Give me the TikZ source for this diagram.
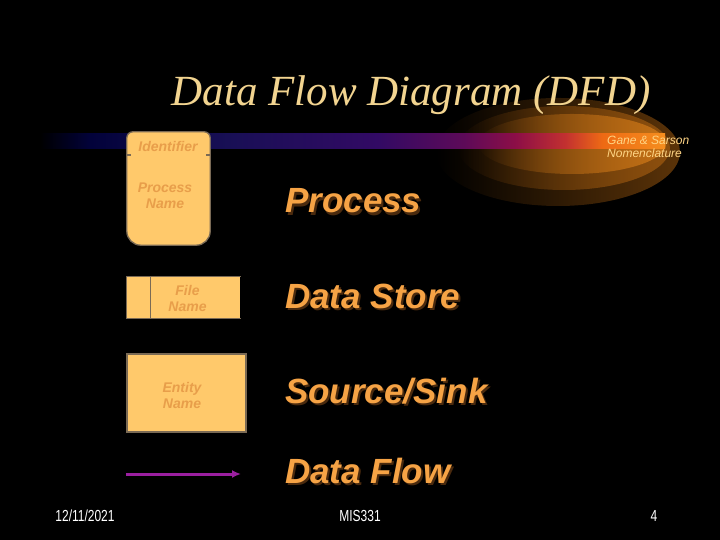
\documentclass[tikz,border=0pt]{standalone}
\usepackage{fontspec}
\setmainfont{Liberation Serif}
\setsansfont{Liberation Sans}
\newfontfamily\narrowsans[FakeStretch=0.75]{Liberation Sans}
\usetikzlibrary{arrows.meta,positioning,fadings}

\definecolor{titletan}{HTML}{F2D490}
\definecolor{ganetan}{HTML}{FFD585}
\definecolor{boxfill}{HTML}{FFC96B}
\definecolor{boxline}{HTML}{7A6A55}
\definecolor{boxtext}{HTML}{E89E4A}
\definecolor{lblorange}{HTML}{F6A345}
\definecolor{lbldark}{HTML}{4A2A0E}
\definecolor{flowpurple}{HTML}{9B1FA0}
\definecolor{glowdeep}{HTML}{5C3409}
\definecolor{glowmid}{HTML}{8E500E}
\definecolor{glowhot}{HTML}{C27016}
\definecolor{barnavy}{HTML}{02023A}
\definecolor{barblue}{HTML}{180F55}
\definecolor{barviolet}{HTML}{320A64}
\definecolor{barplum}{HTML}{5E0A58}
\definecolor{barwine}{HTML}{8C0E47}
\definecolor{barred}{HTML}{C23030}
\definecolor{barorange}{HTML}{EE6A14}
\definecolor{barglow}{HTML}{F58E1E}

% colour bar under the heading
\pgfdeclarehorizontalshading{barshade}{100bp}{color(0bp)=(black); color(25bp)=(black);
  color(29bp)=(barnavy); color(40bp)=(barblue); color(52bp)=(barviolet); color(59bp)=(barplum);
  color(63bp)=(barwine); color(67bp)=(barred); color(70bp)=(barorange); color(75bp)=(barglow);
  color(100bp)=(barglow)}
\tikzfading[name=glowfade, left color=transparent!100, middle color=transparent!35, right color=transparent!0]

\begin{document}
\begin{tikzpicture}[x=1pt, y=-1pt,
  box/.style={fill=boxfill, draw=boxline, line width=1.3pt},
  boxtxt/.style={text=boxtext, font=\fontsize{14}{16}\selectfont\sffamily\bfseries\itshape, align=center, inner sep=0pt, anchor=base},
  lbl/.style={text=lblorange, font=\fontsize{35}{40}\selectfont\sffamily\bfseries\itshape, anchor=base west, inner sep=0pt},
  lblshadow/.style={lbl, text=lbldark},
  foot/.style={text=white, font=\fontsize{16}{18}\selectfont\narrowsans, inner sep=0pt},
  flow/.style={-{Latex[length=9pt,width=8pt]}, draw=flowpurple, line width=3pt}]

\fill[black] (0,0) rectangle (720,540);

% glow on the right
\foreach \cx/\cy/\rx/\ry/\c in {558/152/122/54/glowdeep, 564/148/106/42/glowmid, 572/144/94/30/glowhot}
  \fill[\c, path fading=glowfade] (\cx,\cy) ellipse [x radius=\rx, y radius=\ry];

\shade[shading=barshade] (40,134) rectangle (665,149);

\node[text=titletan, font=\fontsize{43}{48}\selectfont\itshape, anchor=base, inner sep=0pt] (title) at (411,106) {Data Flow Diagram (DFD)};
\node[text=ganetan, font=\fontsize{12}{13.5}\selectfont\sffamily\itshape, anchor=base west, align=left, inner sep=0pt] (gane) at (607,158) {Gane \& Sarson\\Nomenclature};

% process
\node[minimum width=83pt, minimum height=113pt, inner sep=0pt] (proc) at (168.5,188.5) {};
\filldraw[box] (proc.west) [rounded corners=6pt] -- (proc.north west) -- (proc.north east) -- (proc.east)
  [rounded corners=14pt] -- (proc.south east) -- (proc.south west) -- cycle;
\coordinate (procsplit) at (0,155);
\draw[boxline, line width=1.3pt] (proc.west |- procsplit) -- ++(4,0);
\draw[boxline, line width=1.3pt] (proc.east |- procsplit) -- ++(-4,0);
\node[boxtxt] (procid) at (168,152) {Identifier};
\node[boxtxt] (procname) at (165,208) {Process\\Name};

% data store
\node[fill=boxfill, minimum width=23pt, minimum height=41pt, inner sep=0pt] (storeid) at (138.5,297.5) {};
\node[fill=boxfill, minimum width=90pt, minimum height=41pt, inner sep=0pt, right=0pt of storeid] (storename) {};
\draw[boxline, line width=1.3pt] (storename.north east) -- (storeid.north west) -- (storeid.south west) -- (storename.south east);
\draw[boxline, line width=1.3pt] (storeid.north east) -- (storeid.south east);
\node[boxtxt] (storetxt) at (187.5,311) {File\\Name};

% source/sink
\node[box, minimum width=119pt, minimum height=78pt, inner sep=0pt] (entity) at (186.5,393) {};
\node[boxtxt] (entitytxt) at (182,408) {Entity\\Name};

% data flow
\coordinate (flowstart) at (126,474);
\coordinate (flowend) at (241,474);
\draw[flow] (flowstart) -- (flowend);

\foreach \y/\txt/\nm in {213/Process/lblproc, 308/Data Store/lblstore, 403/{Source/Sink}/lblsink, 483/Data Flow/lblflow} {
  \node[lblshadow] (\nm-sh) at (287,\y+2) {\txt};
  \node[lbl] (\nm) at (285,\y) {\txt};
}

\node[foot] (date) at (85,516) {12/11/2021};
\node[foot] (course) at (360,516) {MIS331};
\node[foot] (page) at (654,516) {4};
\end{tikzpicture}
\end{document}
